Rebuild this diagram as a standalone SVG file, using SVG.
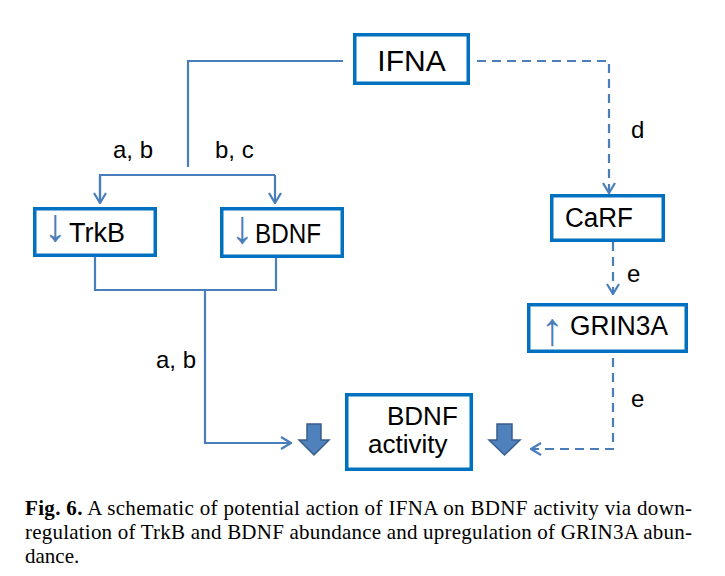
<svg xmlns="http://www.w3.org/2000/svg" width="725" height="576" viewBox="0 0 725 576">
<style>
.box{fill:#fff;stroke:#0070C0;stroke-width:3.5}
.t{font-family:"Liberation Sans",Arial,sans-serif;fill:#000}
.lbl{font-family:"Liberation Sans",Arial,sans-serif;font-size:24px;fill:#000}
.ia{font-family:"Liberation Sans",Arial,sans-serif;fill:#4A7EBB;font-size:46px}
.c{fill:none;stroke:#4A7EBB;stroke-width:2.2}
.d{stroke-dasharray:9,6}
.big{fill:#4F81BD;stroke:#385D8A;stroke-width:1.5}
.cap{font-family:"Liberation Serif","Times New Roman",serif;font-size:21px;fill:#000}
</style>
<defs>
<marker id="ah" viewBox="0 0 12 14" refX="11" refY="7" markerWidth="12" markerHeight="14" markerUnits="userSpaceOnUse" orient="auto">
<path d="M1,1 L11,7 L1,13" fill="none" stroke="#4A7EBB" stroke-width="2.2"/>
</marker>
</defs>
<rect width="725" height="576" fill="#fff"/>
<g id="connectors">
<polyline class="c" points="343,61 188,61 188,167"/>
<polyline class="c" points="100,203 100,175 275,175"/>
<line class="c" x1="100" y1="176" x2="100" y2="203" marker-end="url(#ah)"/>
<line class="c" x1="275" y1="175" x2="275" y2="203" marker-end="url(#ah)"/>
<polyline class="c" points="95,257 95,290 276,290 276,257"/>
<polyline class="c" points="205,290 205,443 291,443" marker-end="url(#ah)"/>
<polyline class="c d" points="477,61 609,61 609,193" marker-end="url(#ah)"/>
<line class="c d" x1="613" y1="242" x2="613" y2="294" marker-end="url(#ah)"/>
<polyline class="c d" points="613,358 613,449 531,449" marker-end="url(#ah)"/>
<text class="lbl" x="113" y="158">a, b</text>
<text class="lbl" x="215" y="158">b, c</text>
<text class="lbl" x="631" y="138">d</text>
<text class="lbl" x="627" y="282">e</text>
<text class="lbl" x="631" y="407">e</text>
<text class="lbl" x="156" y="368">a, b</text>
</g>
<g id="IFNA">
<rect class="box" x="354.75" y="34.75" width="113.5" height="48.5"/>
<text class="t" x="411.5" y="71" font-size="30" text-anchor="middle">IFNA</text>
</g>
<g id="TrkB">
<rect class="box" x="34.75" y="208.75" width="120.5" height="46.5"/>
<text class="ia" x="55" y="241" text-anchor="middle">↓</text>
<text class="t" x="69" y="242" font-size="27">TrkB</text>
</g>
<g id="BDNF">
<rect class="box" x="221.75" y="208.75" width="120.5" height="47.5"/>
<text class="ia" x="242" y="243" text-anchor="middle">↓</text>
<text class="t" x="255" y="243" font-size="27" textLength="66" lengthAdjust="spacingAndGlyphs">BDNF</text>
</g>
<g id="CaRF">
<rect class="box" x="551.75" y="195.75" width="111.5" height="44.5"/>
<text class="t" x="565" y="227" font-size="27" textLength="68" lengthAdjust="spacingAndGlyphs">CaRF</text>
</g>
<g id="GRIN3A">
<rect class="box" x="528.75" y="304.75" width="157.5" height="46.5"/>
<text class="ia" x="552" y="345" text-anchor="middle">↑</text>
<text class="t" x="570" y="335" font-size="27" textLength="98" lengthAdjust="spacingAndGlyphs">GRIN3A</text>
</g>
<g id="BDNF_activity">
<rect class="box" x="346.75" y="394.75" width="124.5" height="74.5"/>
<text class="t" x="387" y="425" font-size="26">BDNF</text>
<text class="t" x="368" y="453" font-size="26">activity</text>
</g>
<g id="down_arrows">
<path class="big" d="M307,424 H321 V440 H329 L314,455 L299,440 H307 Z"/>
<path class="big" d="M497,424 H512 V440 H520 L504.5,455 L489,440 H497 Z"/>
</g>
<g id="caption">
<text class="cap" x="25" y="515" textLength="667" lengthAdjust="spacing"><tspan font-weight="bold">Fig. 6.</tspan> A schematic of potential action of IFNA on BDNF activity via down-</text>
<text class="cap" x="25" y="539" textLength="667" lengthAdjust="spacing">regulation of TrkB and BDNF abundance and upregulation of GRIN3A abun-</text>
<text class="cap" x="25" y="563">dance.</text>
</g>
</svg>
